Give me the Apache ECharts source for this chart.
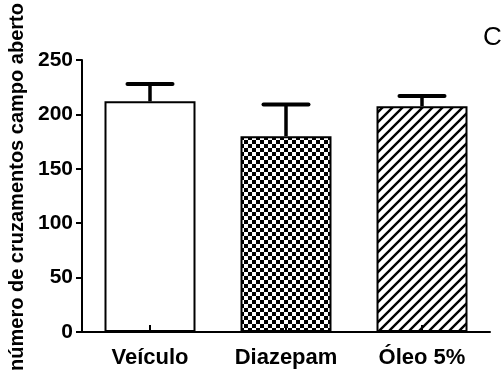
<!DOCTYPE html>
<html>
<head>
<meta charset="utf-8">
<script src="https://cdn.jsdelivr.net/npm/echarts@6/dist/echarts.min.js"></script>
<style>
html,body{margin:0;padding:0;background:#fff;}
#chart{width:502px;height:380px;}
</style>
</head>
<body>
<div id="chart"></div>
<script>
var categories = ['Veículo', 'Diazepam', 'Óleo 5%'];
var means = [212, 180, 207.5];
var sems = [16, 29, 9.5];
var yTicks = [0, 50, 100, 150, 200, 250];
var yTitle = 'número de cruzamentos campo aberto';
var panelLetter = 'C';

var FONT = "'Liberation Sans', Arial, sans-serif";

function checker() {
  var c = document.createElement('canvas');
  c.width = 8; c.height = 8;
  var g = c.getContext('2d');
  g.fillStyle = '#fff'; g.fillRect(0, 0, 8, 8);
  g.fillStyle = '#000';
  g.fillRect(0, 0, 4, 4); g.fillRect(4, 4, 4, 4);
  return c;
}
function hatch() {
  var s = 10;
  var c = document.createElement('canvas');
  c.width = s; c.height = s;
  var g = c.getContext('2d');
  g.fillStyle = '#fff'; g.fillRect(0, 0, s, s);
  g.strokeStyle = '#000'; g.lineWidth = 2.4;
  g.beginPath();
  g.moveTo(-1, s + 1); g.lineTo(s + 1, -1);
  g.moveTo(-2, 2); g.lineTo(2, -2);
  g.moveTo(s - 2, s + 2); g.lineTo(s + 2, s - 2);
  g.stroke();
  return c;
}

var fills = ['#ffffff', { image: checker(), repeat: 'repeat' }, { image: hatch(), repeat: 'repeat' }];

var chart = echarts.init(document.getElementById('chart'));
chart.setOption({
  animation: false,
  backgroundColor: '#fff',
  grid: { left: 82, right: 12, top: 60, bottom: 48 },
  xAxis: {
    type: 'category',
    data: categories,
    z: 5,
    axisLine: { lineStyle: { color: '#000', width: 2 } },
    axisTick: { show: true, inside: true, length: 7, alignWithLabel: true, lineStyle: { color: '#000', width: 2 } },
    axisLabel: { color: '#000', fontFamily: FONT, fontWeight: 'bold', fontSize: 22, margin: 15 }
  },
  yAxis: {
    type: 'value',
    min: 0, max: 250, interval: 50,
    splitLine: { show: false },
    axisLine: { show: true, lineStyle: { color: '#000', width: 2 } },
    axisTick: { show: true, length: 6, lineStyle: { color: '#000', width: 2 } },
    axisLabel: {
      color: '#000', fontFamily: FONT, fontWeight: 'bold', fontSize: 21, margin: 9,
      formatter: function (v) { return yTicks.indexOf(v) >= 0 ? String(v) : ''; }
    }
  },
  graphic: [
    {
      type: 'text', x: 17, y: 187, rotation: Math.PI / 2,
      style: { text: yTitle, fill: '#000', font: 'bold 20px ' + FONT, textAlign: 'center', textVerticalAlign: 'middle' }
    },
    {
      type: 'text', x: 483, y: 38,
      style: { text: panelLetter, fill: '#000', font: '26px ' + FONT, textAlign: 'left', textVerticalAlign: 'middle' }
    }
  ],
  series: [
    {
      type: 'bar',
      barWidth: 91,
      data: means.map(function (v, i) {
        return { value: v, itemStyle: { color: fills[i], borderColor: '#000', borderWidth: 2 } };
      }),
      z: 2
    },
    {
      type: 'custom',
      z: 3,
      data: means.map(function (v, i) { return [i, v, v + sems[i]]; }),
      renderItem: function (params, api) {
        var x = api.coord([api.value(0), api.value(1)])[0];
        var y0 = api.coord([api.value(0), api.value(1)])[1];
        var y1 = api.coord([api.value(0), api.value(2)])[1];
        var hw = 22.5;
        return {
          type: 'group',
          children: [
            { type: 'line', shape: { x1: x, y1: y0, x2: x, y2: y1 }, style: { stroke: '#000', lineWidth: 3.5 } },
            { type: 'line', shape: { x1: x - hw, y1: y1, x2: x + hw, y2: y1 }, style: { stroke: '#000', lineWidth: 4, lineCap: 'round' } }
          ]
        };
      }
    }
  ]
});
</script>
</body>
</html>
